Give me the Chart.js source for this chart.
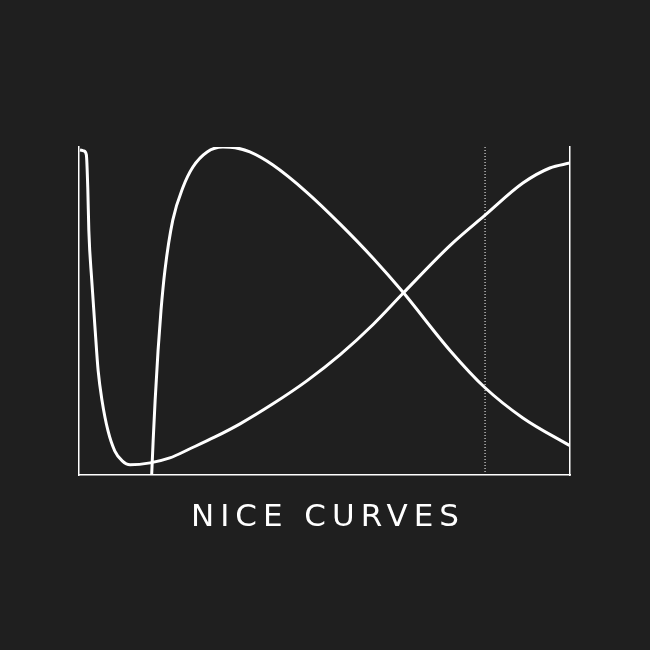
<!DOCTYPE html>
<html>
<head>
<meta charset="utf-8">
<script src="https://cdn.jsdelivr.net/npm/chart.js@4"></script>
<style>
  html, body { margin: 0; padding: 0; background: #1f1f1f; }
  #wrap { position: relative; width: 650px; height: 650px; }
  #title {
    position: absolute; left: 0; top: 497px; width: 650px;
    text-align: center; color: #fff;
    font-family: "DejaVu Sans", sans-serif; font-size: 31px;
    letter-spacing: 6px; text-indent: 6px;
  }
</style>
</head>
<body>
<div id="wrap">
  <canvas id="chart" width="650" height="650"></canvas>
  <div id="title">NICE CURVES</div>
</div>
<script>
// curve that drops from the top left and climbs slowly to the right
const curveAx = [0.02, 0.10, 0.15, 0.18, 0.20, 0.26, 0.33, 0.39, 0.47, 0.59, 0.73, 0.88, 1.04, 1.45, 1.85, 2.26, 2.77, 3.28, 3.95, 4.64, 5.32, 5.99, 6.60, 7.56, 8.27, 9.04, 9.59, 10.0];
const curveAy = [9.91, 9.88, 9.76, 8.69, 7.46, 5.93, 4.40, 3.18, 2.26, 1.35, 0.73, 0.43, 0.31, 0.37, 0.52, 0.80, 1.16, 1.56, 2.17, 2.87, 3.67, 4.59, 5.54, 7.00, 7.92, 8.90, 9.36, 9.51];

// curve that shoots up, peaks early and falls off
const curveBx = [1.48, 1.51, 1.55, 1.61, 1.67, 1.75, 1.91, 2.12, 2.32, 2.61, 2.93, 3.18, 3.48, 3.95, 4.64, 5.32, 5.99, 6.60, 7.56, 8.27, 9.04, 10.0];
const curveBy = [0, 1.04, 2.26, 3.79, 5.02, 6.24, 7.77, 8.78, 9.39, 9.85, 10.0, 9.98, 9.85, 9.45, 8.62, 7.65, 6.61, 5.57, 3.79, 2.66, 1.74, 0.89];

// dotted marker
const markerX = 8.27;

const toPts = (xs, ys) => xs.map((x, i) => ({ x: x, y: ys[i] }));

const ctx = document.getElementById('chart');
new Chart(ctx, {
  type: 'scatter',
  data: {
    datasets: [
      {
        data: toPts(curveAx, curveAy),
        showLine: true,
        borderColor: '#ffffff',
        borderWidth: 3,
        pointRadius: 0,
        cubicInterpolationMode: 'monotone'
      },
      {
        data: toPts(curveBx, curveBy),
        showLine: true,
        borderColor: '#ffffff',
        borderWidth: 3,
        pointRadius: 0,
        cubicInterpolationMode: 'monotone'
      },
      {
        data: [{ x: markerX, y: 0 }, { x: markerX, y: 10 }],
        showLine: true,
        borderColor: '#ffffff',
        borderWidth: 1,
        borderDash: [1, 2],
        pointRadius: 0
      }
    ]
  },
  options: {
    responsive: false,
    animation: false,
    layout: { padding: { left: 71, right: 72, top: 147, bottom: 167 } },
    plugins: { legend: { display: false }, tooltip: { enabled: false } },
    scales: {
      x: {
        type: 'linear', min: 0, max: 10,
        grid: { display: false },
        ticks: { display: false },
        border: { display: true, color: '#ffffff', width: 1.5 }
      },
      y: {
        min: 0, max: 10,
        grid: { display: false },
        ticks: { display: false },
        border: { display: true, color: '#ffffff', width: 1.5 }
      },
      y2: {
        position: 'right', min: 0, max: 10,
        grid: { display: false },
        ticks: { display: false },
        border: { display: true, color: '#ffffff', width: 1.5 }
      }
    }
  }
});
</script>
</body>
</html>
